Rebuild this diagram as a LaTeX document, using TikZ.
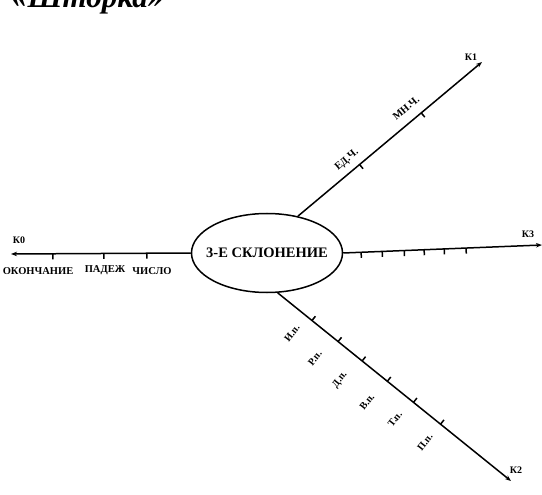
\documentclass[tikz,border=0pt]{standalone}
\usepackage{fontspec}
\setmainfont{Liberation Serif}
\usetikzlibrary{shapes.geometric,arrows.meta,calc}
\tikzset{
  conn/.style={line width=1.5pt,-{Stealth[length=6pt,width=4.5pt]}},
  tickst/.style={line width=1.5pt},
  lab/.style={font=\bfseries\fontsize{10.5}{11}\selectfont,inner sep=0pt},
  clab/.style={font=\bfseries\fontsize{10}{11}\selectfont,inner sep=0pt,rotate=52},
  klab/.style={font=\bfseries\fontsize{10}{11}\selectfont,inner sep=0pt},
  core/.style={ellipse,draw,line width=1.5pt,minimum width=151pt,minimum height=79pt,inner sep=0pt},
  coretext/.style={font=\bfseries\fontsize{14.5}{16}\selectfont,inner sep=0pt}
}
\newcommand{\mytick}[4]{%
  \path (#1) -- (#2) coordinate[pos=#3] (tt);
  \draw[tickst] (tt) -- ($(tt)!5.5pt!#4:(#2)$);}
\begin{document}
\begin{tikzpicture}[x=1pt,y=1pt]
\useasboundingbox (0,0) rectangle (542,-495);
\clip (0,0) rectangle (542,-495);
\node[anchor=base west,inner sep=0pt,font=\bfseries\itshape\fontsize{31}{32}\selectfont] (title) at (12,-8) {«Шторка»};
\node[core] (ell) at (267,-253) {};
\node[coretext] (elltext) at (ell.center) {3-Е СКЛОНЕНИЕ};
\coordinate (k0) at (11,-254);
\coordinate (k1) at (482,-62);
\coordinate (k3) at (542,-245);
\coordinate (k2) at (511,-481);
\coordinate (s1) at (ell.50);
\coordinate (s2) at (ell.-75);
\draw[conn] (ell.west) -- (k0);
\draw[conn] (s1) -- (k1);
\draw[conn] (ell.east) -- (k3);
\draw[conn] (s2) -- (k2);
% ticks K0
\foreach \t in {0.244,0.483,0.767} {\mytick{ell.west}{k0}{\t}{90}}
% ticks K1
\foreach \t in {0.335,0.670} {\mytick{s1}{k1}{\t}{-90}}
% ticks K3
\foreach \t in {0.090,0.196,0.307,0.407,0.508,0.618} {\mytick{ell.east}{k3}{\t}{-90}}
% ticks K2
\foreach \t in {0.147,0.259,0.362,0.470,0.582,0.698} {\mytick{s2}{k2}{\t}{90}}
% labels
\node[klab] (l0) at (19,-240) {К0};
\node[klab] (l1) at (471,-57) {К1};
\node[klab] (l3) at (528,-234) {К3};
\node[klab] (l2) at (516,-470) {К2};
\node[lab] (a1) at (38,-271) {ОКОНЧАНИЕ};
\node[lab] (a2) at (105,-270) {ПАДЕЖ};
\node[lab] (a3) at (152,-271) {ЧИСЛО};
\node[lab,rotate=40] (b1) at (347,-160) {ЕД.Ч.};
\node[lab,rotate=40] (b2) at (406,-108) {МН.Ч.};
\node[clab] (c1) at (292,-333) {И.п.};
\node[clab] (c2) at (315,-358) {Р.п.};
\node[clab] (c3) at (340,-380) {Д.п.};
\node[clab] (c4) at (367,-402) {В.п.};
\node[clab] (c5) at (395,-419) {Т.п.};
\node[clab] (c6) at (425,-442) {П.п.};
\end{tikzpicture}
\end{document}
